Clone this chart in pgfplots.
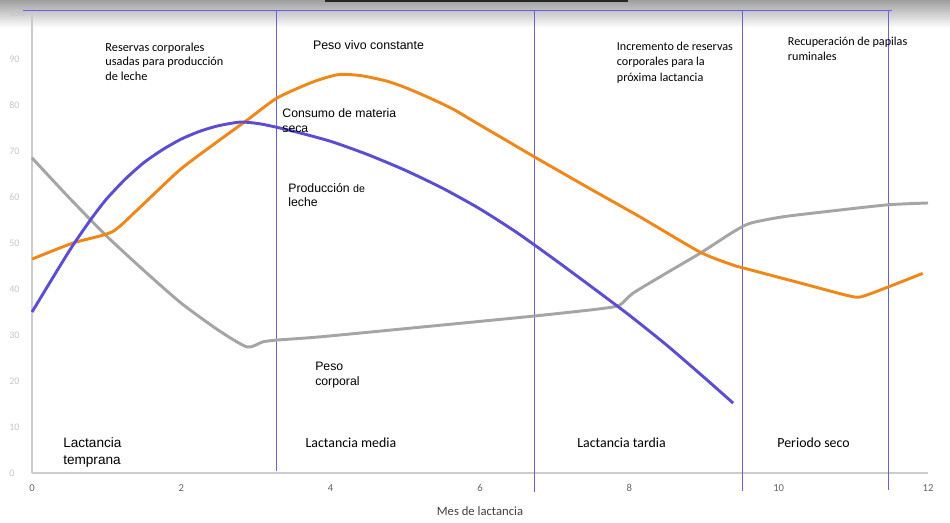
\documentclass[border=0pt]{standalone}
\usepackage{pgfplots}
\pgfplotsset{compat=1.18}
\usepackage{fontspec}
\setmainfont{Liberation Sans}
\newfontfamily\carlito{Carlito}
\definecolor{prod}{RGB}{92,78,212}
\definecolor{cons}{RGB}{242,135,25}
\definecolor{peso}{RGB}{165,165,165}
\definecolor{vline}{RGB}{105,95,225}
\begin{document}
\begin{tikzpicture}
\useasboundingbox (-24pt,-36.75pt) rectangle (688.5pt,354.75pt);
\fill[white] (-24pt,-36.75pt) rectangle (688.5pt,354.75pt);
\shade[top color=black!38, bottom color=white] (-24pt,334pt) rectangle (688.5pt,354.75pt);
\fill[black!85] (219.75pt,353.25pt) rectangle (447pt,354.75pt);
\begin{axis}[
  scale only axis, width=672pt, height=345pt,
  xmin=0, xmax=12, ymin=0, ymax=100,
  axis x line*=bottom, axis y line*=left,
  axis line style={draw=black!20, line width=1.4pt},
  xtick={0,2,...,12}, ytick={0,10,...,100},
  major tick length=0pt,
  clip=false,
  /pgf/number format/assume math mode=true,
  xticklabel style={font=\carlito\fontsize{8}{9}\selectfont, text=black!60, yshift=-5pt},
  yticklabel style={font=\carlito\fontsize{7.5}{9}\selectfont, text=black!22, anchor=west, xshift=-20.5pt},
  xlabel={Mes de lactancia},
  xlabel style={font=\carlito\fontsize{9.5}{11}\selectfont, text=black!75, at={(axis description cs:0.5,0)}, anchor=center, yshift=-28.5pt},
]
% vertical separators and top line
\addplot[vline, line width=0.75pt] coordinates {(3.28,100.65) (3.28,0.5)};
\addplot[vline, line width=0.75pt] coordinates {(6.73,100.65) (6.73,-4.2)};
\addplot[vline, line width=0.75pt] coordinates {(9.52,100.65) (9.52,-4)};
\addplot[vline, line width=0.75pt] coordinates {(11.47,100.65) (11.47,-3.8)};
\addplot[vline, line width=0.75pt] coordinates {(-0.12,100.65) (11.52,100.65)};
% Peso corporal
\addplot[peso, line width=2.2pt, smooth, tension=0.4] coordinates {
(0,68.5) (0.5,59.8) (1.0,51.5) (1.5,44) (2.0,36.9) (2.5,31) (2.88,27.4)
(3.09,28.5) (3.28,28.9) (3.86,29.6) (5.2,31.7) (6.71,34.1) (7.61,35.7) (7.87,36.5)
(8.05,39.1) (8.5,43.5) (8.95,47.8) (9.39,52.4) (9.62,54.3) (10.06,55.7) (10.73,57)
(11.46,58.3) (12,58.7)};
% Consumo de materia seca
\addplot[cons, line width=2.2pt, smooth, tension=0.4] coordinates {
(0,46.5) (0.55,50) (1.07,52.4) (1.41,57.2) (1.98,65.9) (2.48,72) (2.88,76.7) (3.28,81.5)
(3.76,85) (4.1,86.6) (4.4,86.4) (4.75,85.2) (5.0,83.8) (5.33,81.5) (5.64,79.1) (5.91,76.5)
(6.3,72.8) (6.71,68.9) (7.43,62.2) (8.14,55.7) (8.95,48) (9.39,45.2) (9.52,44.6) (10.29,41.3)
(11.0,38.3) (11.18,38.7) (11.46,40.4) (11.93,43.4)};
% Produccion de leche
\addplot[prod, line width=2.2pt, smooth, tension=0.4] coordinates {
(0,35) (0.5,48.3) (0.8,55.4) (1.0,59.6) (1.25,63.9) (1.5,67.5) (1.75,70.3) (2.0,72.6)
(2.25,74.3) (2.5,75.5) (2.8,76.3) (3.09,75.8) (3.5,74.3) (4.0,72.1) (4.5,69.2) (5.0,65.8)
(5.5,61.9) (6.0,57.4) (6.5,52.2) (7.0,46.4) (7.5,40.4) (8.0,34.3) (8.5,27.8) (9.0,20.8)
(9.39,15.2)};
% annotations
\node[anchor=north west, inner sep=0, align=left, font=\carlito\fontsize{9.2}{11}\selectfont] at (axis cs:0.98,93.6) {Reservas corporales\\usadas para producción\\de leche};
\node[anchor=north west, inner sep=0, align=left, font=\fontsize{9.3}{11}\selectfont] at (axis cs:3.76,94.1) {Peso vivo constante};
\node[anchor=north west, inner sep=0, align=left, font=\fontsize{9.2}{11.2}\selectfont] at (axis cs:3.35,79.3) {Consumo de materia\\seca};
\node[anchor=north west, inner sep=0, align=left, font=\fontsize{9.2}{10.5}\selectfont] at (axis cs:3.43,63) {Producción {\fontsize{8}{10}\selectfont de}\\leche};
\node[anchor=north west, inner sep=0, align=left, font=\fontsize{9.2}{11.2}\selectfont] at (axis cs:3.79,24.1) {Peso\\corporal};
\node[anchor=north west, inner sep=0, align=left, font=\fontsize{10.2}{13.3}\selectfont] at (axis cs:0.415,7.8) {Lactancia\\temprana};
\node[anchor=north west, inner sep=0, font=\carlito\fontsize{10.4}{12}\selectfont] at (axis cs:3.66,7.7) {Lactancia media};
\node[anchor=north west, inner sep=0, font=\carlito\fontsize{10.4}{12}\selectfont] at (axis cs:7.3,7.7) {Lactancia tardia};
\node[anchor=north west, inner sep=0, font=\carlito\fontsize{10.4}{12}\selectfont] at (axis cs:9.98,7.7) {Periodo seco};
\node[anchor=north west, inner sep=0, align=left, font=\carlito\fontsize{9.1}{11.6}\selectfont] at (axis cs:7.83,93.8) {Incremento de reservas\\corporales para la\\próxima lactancia};
\node[anchor=north west, inner sep=0, align=left, font=\carlito\fontsize{9.1}{11.3}\selectfont] at (axis cs:10.12,94.9) {Recuperación de papilas\\ruminales};
\end{axis}
\end{tikzpicture}
\end{document}
